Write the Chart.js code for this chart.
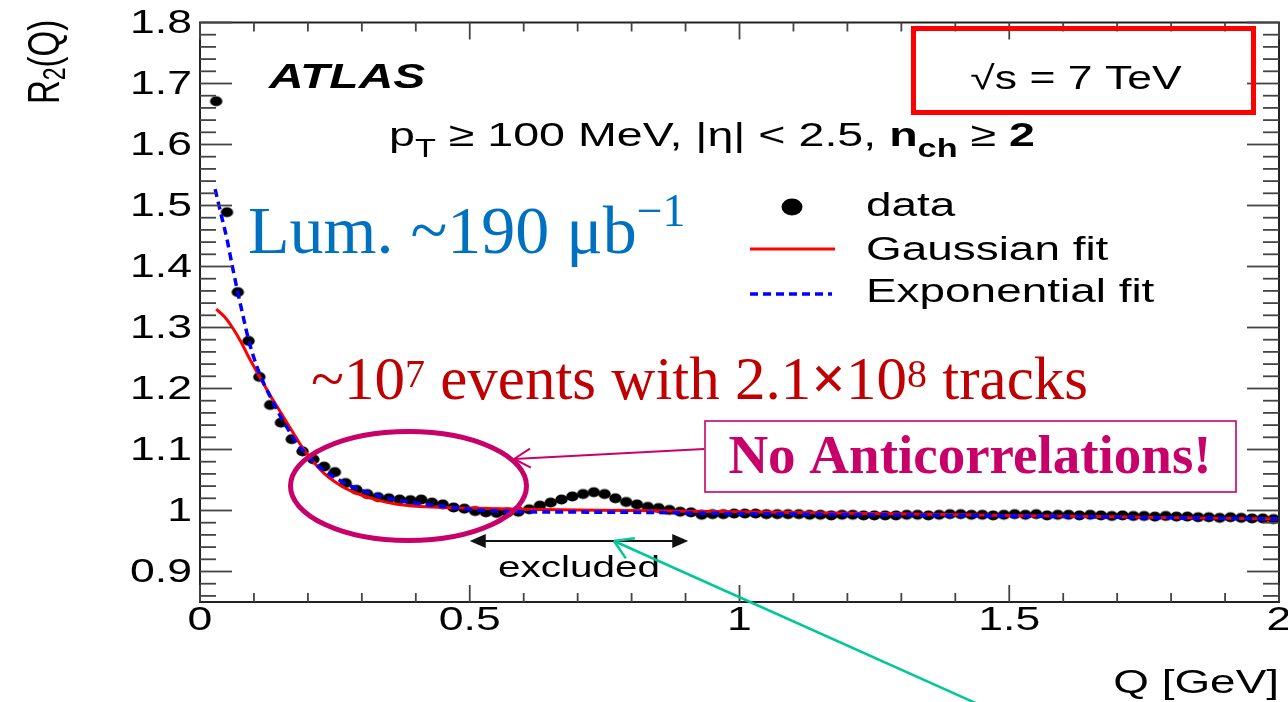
<!DOCTYPE html>
<html>
<head>
<meta charset="utf-8">
<title>R2(Q) ATLAS</title>
<script src="https://cdn.jsdelivr.net/npm/chart.js@4.4.1/dist/chart.umd.min.js"></script>
<style>
  html, body { margin: 0; padding: 0; background: #fff; }
  #wrap { position: relative; width: 1288px; height: 702px; }
</style>
</head>
<body>
<div id="wrap"><canvas id="r2Chart"></canvas></div>
<script>
// Bin centres Q [GeV]
const dataQ = [
  0.03, 0.05, 0.07, 0.09, 0.11, 0.13, 0.15, 0.17, 0.19, 0.21,
  0.23, 0.25, 0.27, 0.29, 0.31, 0.33, 0.35, 0.37, 0.39, 0.41,
  0.43, 0.45, 0.47, 0.49, 0.51, 0.53, 0.55, 0.57, 0.59, 0.61,
  0.63, 0.65, 0.67, 0.69, 0.71, 0.73, 0.75, 0.77, 0.79, 0.81,
  0.83, 0.85, 0.87, 0.89, 0.91, 0.93, 0.95, 0.97, 0.99, 1.01,
  1.03, 1.05, 1.07, 1.09, 1.11, 1.13, 1.15, 1.17, 1.19, 1.21,
  1.23, 1.25, 1.27, 1.29, 1.31, 1.33, 1.35, 1.37, 1.39, 1.41,
  1.43, 1.45, 1.47, 1.49, 1.51, 1.53, 1.55, 1.57, 1.59, 1.61,
  1.63, 1.65, 1.67, 1.69, 1.71, 1.73, 1.75, 1.77, 1.79, 1.81,
  1.83, 1.85, 1.87, 1.89, 1.91, 1.93, 1.95, 1.97, 1.99
];
// Measured R2(Q)
const dataR2 = [
  1.671, 1.489, 1.358, 1.278, 1.219, 1.173, 1.144, 1.117, 1.097, 1.084,
  1.072, 1.063, 1.045, 1.034, 1.027, 1.022, 1.020, 1.018, 1.017, 1.018,
  1.013, 1.010, 1.005, 1.003, 0.999, 0.997, 0.996, 0.997, 0.998, 1.002,
  1.008, 1.013, 1.018, 1.023, 1.027, 1.030, 1.027, 1.020, 1.014, 1.010,
  1.006, 1.004, 1.001, 0.998, 0.997, 0.993, 0.994, 0.994, 0.995, 0.995,
  0.995, 0.994, 0.994, 0.994, 0.994, 0.993, 0.993, 0.992, 0.993, 0.993,
  0.992, 0.992, 0.992, 0.992, 0.993, 0.993, 0.992, 0.993, 0.994, 0.994,
  0.993, 0.993, 0.992, 0.993, 0.994, 0.993, 0.994, 0.992, 0.993, 0.993,
  0.992, 0.993, 0.992, 0.991, 0.992, 0.991, 0.991, 0.990, 0.991, 0.990,
  0.990, 0.989, 0.989, 0.988, 0.989, 0.988, 0.987, 0.987, 0.986
];

// Gaussian fit
const gaussQ = [0.03, 0.045, 0.06, 0.075, 0.09, 0.11, 0.13, 0.15, 0.17, 0.19,
  0.21, 0.23, 0.25, 0.27, 0.30, 0.33, 0.36, 0.40, 0.45, 0.50,
  0.60, 0.80, 1.00, 1.25, 1.50, 1.75, 2.00];
const gaussR2 = [1.330, 1.318, 1.300, 1.278, 1.252, 1.220, 1.189, 1.160, 1.131, 1.103,
  1.080, 1.061, 1.047, 1.036, 1.025, 1.017, 1.011, 1.007, 1.005, 1.004,
  1.002, 1.000, 0.998, 0.995, 0.992, 0.989, 0.986];

// Exponential fit
const expQ = [0.028, 0.04, 0.05, 0.06, 0.07, 0.08, 0.09, 0.10, 0.11, 0.12,
  0.13, 0.14, 0.15, 0.16, 0.18, 0.20, 0.22, 0.25, 0.28, 0.32,
  0.36, 0.40, 0.45, 0.50, 0.55, 0.60, 0.80, 1.00, 1.50, 2.00];
const expR2 = [1.527, 1.482, 1.445, 1.400, 1.358, 1.318, 1.280, 1.250, 1.225, 1.205,
  1.187, 1.170, 1.153, 1.138, 1.110, 1.089, 1.072, 1.054, 1.040, 1.027,
  1.018, 1.012, 1.007, 1.002, 0.999, 0.998, 0.997, 0.995, 0.991, 0.986];

const xTickLabels = [0, 0.5, 1, 1.5, 2];
const yTickLabels = [0.9, 1, 1.1, 1.2, 1.3, 1.4, 1.5, 1.6, 1.7, 1.8];
const legendLabels = ["data", "Gaussian fit", "Exponential fit"];

const SX = 1.35; // the ROOT figure was pasted stretched sideways
const SANS = '"Liberation Sans", Arial, sans-serif';
const SERIF = '"Liberation Serif", "Times New Roman", serif';
const MAGENTA = "#c8006a";

// slightly flattened dot, like the stretched markers
function dotImage(rx, ry) {
  const c = document.createElement("canvas");
  c.width = Math.ceil(rx * 2) + 2;
  c.height = Math.ceil(ry * 2) + 2;
  const g = c.getContext("2d");
  g.fillStyle = "#000";
  g.beginPath();
  g.ellipse(c.width / 2, c.height / 2, rx, ry, 0, 0, Math.PI * 2);
  g.fill();
  return c;
}

function fmt(v) {
  return String(+v.toFixed(2));
}

// draw a row of text pieces (sub/superscripts, mixed weights)
function textRuns(ctx, runs, x, y, opts) {
  const sx = opts.sx || 1;
  ctx.save();
  ctx.fillStyle = opts.color || "#000";
  ctx.textBaseline = opts.baseline || "alphabetic";
  ctx.textAlign = "left";
  let w = 0;
  runs.forEach((r) => {
    ctx.font = r.font;
    w += ctx.measureText(r.t).width;
  });
  let x0 = x;
  if (opts.align === "center") x0 = x - (w * sx) / 2;
  else if (opts.align === "right") x0 = x - w * sx;
  ctx.translate(x0, y);
  ctx.scale(sx, 1);
  let cx = 0;
  runs.forEach((r) => {
    ctx.font = r.font;
    ctx.fillText(r.t, cx, r.dy || 0);
    cx += ctx.measureText(r.t).width;
  });
  ctx.restore();
}

function line(ctx, x1, y1, x2, y2) {
  ctx.beginPath();
  ctx.moveTo(x1, y1);
  ctx.lineTo(x2, y2);
  ctx.stroke();
}

function openHead(ctx, tipX, tipY, fromX, fromY, len, spread) {
  const a = Math.atan2(fromY - tipY, fromX - tipX);
  line(ctx, tipX, tipY, tipX + len * Math.cos(a + spread), tipY + len * Math.sin(a + spread));
  line(ctx, tipX, tipY, tipX + len * Math.cos(a - spread), tipY + len * Math.sin(a - spread));
}

function filledHead(ctx, tipX, y, dir, len, half) {
  ctx.beginPath();
  ctx.moveTo(tipX, y);
  ctx.lineTo(tipX + dir * len, y - half);
  ctx.lineTo(tipX + dir * len, y + half);
  ctx.closePath();
  ctx.fill();
}

// frame, inward ticks, labels and slide annotations
const rootStyle = {
  id: "rootStyle",
  afterDraw(chart) {
    const ctx = chart.ctx;
    const a = chart.chartArea;
    const xs = chart.scales.x;
    const ys = chart.scales.y;

    ctx.save();
    // frame
    ctx.strokeStyle = "#222";
    ctx.lineWidth = 2;
    ctx.strokeRect(a.left, a.top, a.right - a.left, a.bottom - a.top);

    // ticks
    ctx.strokeStyle = "#444";
    ctx.lineWidth = 1.8;
    for (let k = 0; k <= 20; k++) {
      const px = xs.getPixelForValue(k / 10);
      const len = k % 5 === 0 ? 17 : 9;
      line(ctx, px, a.bottom, px, a.bottom - len);
      line(ctx, px, a.top, px, a.top + len);
    }
    for (let k = 0; k <= 47; k++) {
      const v = 0.86 + k * 0.02;
      const py = ys.getPixelForValue(v);
      const len = Math.round(v * 100) % 10 === 0 ? 32 : 16;
      line(ctx, a.left, py, a.left + len, py);
      line(ctx, a.right, py, a.right - len, py);
    }

    // tick labels
    const tickFont = "33px " + SANS;
    xs.ticks.forEach((t) => {
      textRuns(ctx, [{ t: fmt(t.value), font: tickFont }], xs.getPixelForValue(t.value), 621,
        { sx: SX, align: "center", baseline: "middle" });
    });
    ys.ticks.forEach((t) => {
      textRuns(ctx, [{ t: fmt(t.value), font: tickFont }], a.left - 8, ys.getPixelForValue(t.value) + 1,
        { sx: SX, align: "right", baseline: "middle" });
    });

    // axis titles
    textRuns(ctx, [{ t: "Q [GeV]", font: "34px " + SANS }], a.right, 684,
      { sx: SX, align: "right", baseline: "middle" });
    ctx.save();
    ctx.translate(47, 104);
    ctx.scale(SX, 1);
    ctx.rotate(-Math.PI / 2);
    textRuns(ctx, [
      { t: "R", font: "33px " + SANS },
      { t: "2", font: "23px " + SANS, dy: 7 },
      { t: "(Q)", font: "33px " + SANS },
    ], 0, 0, { baseline: "middle" });
    ctx.restore();

    // ATLAS label and cuts
    textRuns(ctx, [{ t: "ATLAS", font: "italic bold 35px " + SANS }], 269, 88, { sx: SX + 0.02 });
    textRuns(ctx, [
      { t: "p", font: "34px " + SANS },
      { t: "T", font: "25px " + SANS, dy: 11 },
      { t: " \u2265 100 MeV, |\u03b7| < 2.5, ", font: "34px " + SANS },
      { t: "n", font: "bold 34px " + SANS },
      { t: "ch", font: "bold 25px " + SANS, dy: 11 },
      { t: " \u2265 ", font: "34px " + SANS },
      { t: "2", font: "bold 34px " + SANS },
    ], 389, 146, { sx: SX + 0.02 });

    // sqrt(s) box
    textRuns(ctx, [{ t: "\u221as = 7 TeV", font: "33px " + SANS }], 1076, 89, { sx: SX, align: "center" });
    ctx.strokeStyle = "#ff0000";
    ctx.lineWidth = 5;
    ctx.strokeRect(913.5, 28.5, 340, 84);

    // legend
    ctx.fillStyle = "#000";
    ctx.beginPath();
    ctx.ellipse(792, 207, 10.5, 8.5, 0, 0, Math.PI * 2);
    ctx.fill();
    ctx.strokeStyle = "#ff0000";
    ctx.lineWidth = 3;
    line(ctx, 750, 249, 835, 249);
    ctx.strokeStyle = "#0000ff";
    ctx.lineWidth = 3.5;
    ctx.setLineDash([8, 5]);
    line(ctx, 750, 294, 832, 294);
    ctx.setLineDash([]);
    const legFont = "34px " + SANS;
    textRuns(ctx, [{ t: legendLabels[0], font: legFont }], 866, 216, { sx: SX });
    textRuns(ctx, [{ t: legendLabels[1], font: legFont }], 866, 260, { sx: SX });
    textRuns(ctx, [{ t: legendLabels[2], font: legFont }], 866, 302, { sx: SX });

    // excluded range arrow
    ctx.strokeStyle = "#111";
    ctx.fillStyle = "#111";
    ctx.lineWidth = 1.8;
    const exL = xs.getPixelForValue(0.5);
    const exR = xs.getPixelForValue(0.905);
    line(ctx, exL + 4, 541, exR - 4, 541);
    filledHead(ctx, exL, 541, 1, 16, 7);
    filledHead(ctx, exR, 541, -1, 16, 7);
    textRuns(ctx, [{ t: "excluded", font: "30px " + SANS }], 579, 577, { sx: SX, align: "center" });

    // slide annotations
    textRuns(ctx, [
      { t: "Lum. ~190 \u03bcb", font: "68px " + SERIF },
      { t: "\u22121", font: "46px " + SERIF, dy: -27 },
    ], 248, 253, { color: "#0070c0" });
    textRuns(ctx, [
      { t: "~10", font: "61px " + SERIF },
      { t: "7", font: "40px " + SERIF, dy: -12 },
      { t: " events with 2.1", font: "61px " + SERIF },
      { t: "\u00d7", font: "bold 61px " + SERIF },
      { t: "10", font: "61px " + SERIF },
      { t: "8", font: "40px " + SERIF, dy: -12 },
      { t: " tracks", font: "61px " + SERIF },
    ], 311, 399, { color: "#c00000" });

    // "No Anticorrelations!" box, arrow and ellipse
    ctx.strokeStyle = MAGENTA;
    ctx.lineWidth = 1.6;
    ctx.strokeRect(705, 421, 531, 71);
    textRuns(ctx, [{ t: "No Anticorrelations!", font: "bold 55px " + SERIF }], 970, 473,
      { color: MAGENTA, align: "center" });
    ctx.lineWidth = 2;
    line(ctx, 704, 449, 514, 459);
    openHead(ctx, 514, 459, 704, 449, 19, 0.52);
    ctx.lineWidth = 5;
    ctx.beginPath();
    ctx.ellipse(408.5, 486, 118, 54.5, 0, 0, Math.PI * 2);
    ctx.stroke();

    // green arrow to the flat fit region
    ctx.strokeStyle = "#00c896";
    ctx.lineWidth = 2.5;
    line(ctx, 980, 705, 614, 541);
    openHead(ctx, 614, 541, 980, 705, 21, 0.55);

    ctx.restore();
  },
};

const ctx = document.getElementById("r2Chart").getContext("2d");
new Chart(ctx, {
  type: "scatter",
  data: {
    datasets: [
      {
        label: legendLabels[0],
        data: dataQ.map((q, i) => ({ x: q, y: dataR2[i] })),
        pointStyle: dotImage(6.2, 5.1),
        pointRadius: 6,
        showLine: false,
        order: 3,
      },
      {
        label: legendLabels[1],
        data: gaussQ.map((q, i) => ({ x: q, y: gaussR2[i] })),
        showLine: true,
        borderColor: "#ff0000",
        borderWidth: 3,
        pointRadius: 0,
        cubicInterpolationMode: "monotone",
        order: 2,
      },
      {
        label: legendLabels[2],
        data: expQ.map((q, i) => ({ x: q, y: expR2[i] })),
        showLine: true,
        borderColor: "#0000ff",
        borderWidth: 3.5,
        borderDash: [8, 5],
        pointRadius: 0,
        cubicInterpolationMode: "monotone",
        order: 1,
      },
    ],
  },
  options: {
    responsive: true,
    maintainAspectRatio: false,
    animation: false,
    layout: {
      autoPadding: false,
      padding: { top: 22.5, right: 9, bottom: 0, left: 0 },
    },
    plugins: {
      legend: { display: false },
      tooltip: { enabled: false },
    },
    scales: {
      x: {
        type: "linear",
        min: 0,
        max: 2,
        ticks: { display: false, stepSize: 0.5 },
        grid: { display: false },
        border: { display: false },
        afterBuildTicks: (s) => {
          s.ticks = xTickLabels.map((v) => ({ value: v }));
        },
        afterFit: (s) => {
          s.height = 100;
        },
      },
      y: {
        min: 0.85,
        max: 1.8,
        ticks: { display: false },
        grid: { display: false },
        border: { display: false },
        afterBuildTicks: (s) => {
          s.ticks = yTickLabels.map((v) => ({ value: v }));
        },
        afterFit: (s) => {
          s.width = 200;
        },
      },
    },
  },
  plugins: [rootStyle],
});
</script>
</body>
</html>
